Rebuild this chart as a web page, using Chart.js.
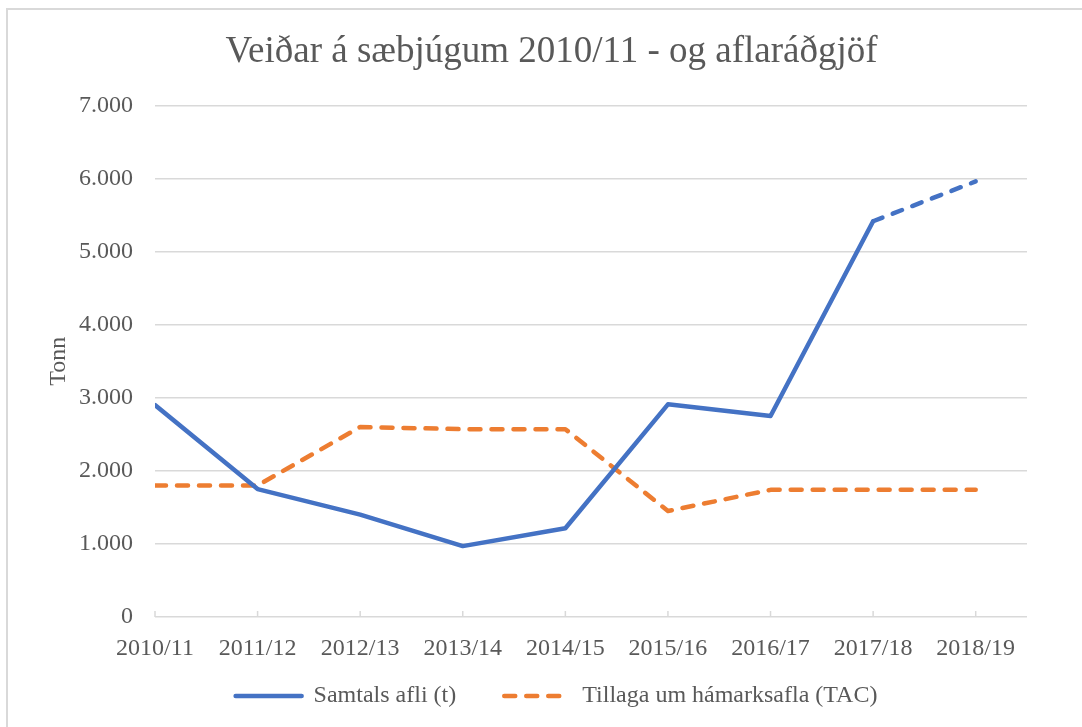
<!DOCTYPE html>
<html>
<head>
<meta charset="utf-8">
<script src="https://cdn.jsdelivr.net/npm/chart.js@4.4.0/dist/chart.umd.min.js"></script>
<style>
html, body { margin: 0; padding: 0; background: #fff; }
#wrap { position: relative; width: 1082px; height: 727px; overflow: hidden; }
#frame { position: absolute; left: 6px; top: 8px; width: 1100px; height: 760px; border: 2px solid #d9d9d9; box-sizing: border-box; }
canvas { position: absolute; left: 0; top: 0; }
</style>
</head>
<body>
<div id="wrap">
    <div id="frame"></div>
    <canvas id="chart" width="1082" height="727"></canvas>
</div>
<script>
var seasons = ['2010/11', '2011/12', '2012/13', '2013/14', '2014/15', '2015/16', '2016/17', '2017/18', '2018/19'];
var totalCatch = [2900, 1750, 1400, 970, 1215, 2910, 2750, 5415, 5960];
var tacAdvice = [1800, 1800, 2600, 2570, 2570, 1450, 1740, 1740, 1740];
var yTicks = [0, 1000, 2000, 3000, 4000, 5000, 6000, 7000];

var serif = 'Liberation Serif, Times New Roman, serif';
var textGray = '#595959';
var gridGray = '#d9d9d9';

function fmtThousands(v) {
    return String(v).replace(/\B(?=(\d{3})+(?!\d))/g, '.');
}

function toPoints(values) {
    return values.map(function (v, i) { return { x: i, y: v }; });
}

// small tick marks that point up into the plot from the base line
var innerTicks = {
    id: 'innerTicks',
    beforeDatasetsDraw: function (chart) {
        var xs = chart.scales.x;
        var base = chart.scales.y.getPixelForValue(0);
        var c = chart.ctx;
        c.save();
        c.strokeStyle = gridGray;
        c.lineWidth = 1.5;
        seasons.forEach(function (s, i) {
            var px = xs.getPixelForValue(i);
            c.beginPath();
            c.moveTo(px, base);
            c.lineTo(px, base - 6);
            c.stroke();
        });
        c.restore();
    }
};

// the excel original centres title and legend on the outer frame, not the plot
var nudge = {
    id: 'nudge',
    afterLayout: function (chart) {
        var t = chart.titleBlock;
        var l = chart.legend;
        if (t) { t.left += 18; t.right += 18; }
        if (l) { l.left += 23; l.right += 23; l.top -= 26; l.bottom -= 26; }
    }
};

new Chart(document.getElementById('chart'), {
    type: 'line',
    data: {
        datasets: [{
            label: 'Samtals afli (t)',
            data: toPoints(totalCatch),
            borderColor: '#4472C4',
            backgroundColor: '#4472C4',
            borderWidth: 4.5,
            borderCapStyle: 'round',
            borderJoinStyle: 'round',
            pointRadius: 0,
            tension: 0,
            segment: {
                borderDash: function (ctx) { return ctx.p0DataIndex === seasons.length - 2 ? [10, 11] : undefined; }
            }
        }, {
            label: 'Tillaga um hámarksafla (TAC)',
            data: toPoints(tacAdvice),
            borderColor: '#ED7D31',
            backgroundColor: '#ED7D31',
            borderWidth: 4.5,
            borderDash: [11, 11],
            borderCapStyle: 'round',
            borderJoinStyle: 'round',
            pointRadius: 0,
            tension: 0
        }]
    },
    options: {
        responsive: false,
        animation: false,
        devicePixelRatio: 1,
        layout: { padding: { left: 40, right: 55, top: 0, bottom: -17 } },
        plugins: {
            title: {
                display: true,
                text: 'Veiðar á sæbjúgum 2010/11 - og aflaráðgjöf',
                color: textGray,
                font: { family: serif, size: 37, weight: 'normal' },
                padding: { top: 30, bottom: 31 }
            },
            legend: {
                position: 'bottom',
                labels: {
                    usePointStyle: true,
                    pointStyle: 'line',
                    pointStyleWidth: 66,
                    color: textGray,
                    font: { family: serif, size: 24 },
                    padding: 48,
                    generateLabels: function (chart) {
                        var items = Chart.defaults.plugins.legend.labels.generateLabels(chart);
                        items.forEach(function (it) {
                            var ds = chart.data.datasets[it.datasetIndex];
                            it.lineDash = ds.borderDash || [];
                            it.lineWidth = ds.borderWidth;
                            it.lineCap = 'round';
                            it.strokeStyle = ds.borderColor;
                        });
                        return items;
                    }
                }
            },
            tooltip: { enabled: false }
        },
        scales: {
            x: {
                type: 'linear',
                min: 0,
                max: seasons.length - 0.5,
                afterBuildTicks: function (scale) {
                    scale.ticks = seasons.map(function (s, i) { return { value: i }; });
                },
                afterFit: function (scale) { scale.height = 45; },
                ticks: {
                    color: textGray,
                    font: { family: serif, size: 24 },
                    padding: 9,
                    maxRotation: 0,
                    autoSkip: false,
                    callback: function (v) { return seasons[v]; }
                },
                grid: { display: false },
                border: { display: false }
            },
            y: {
                min: yTicks[0],
                max: yTicks[yTicks.length - 1],
                afterBuildTicks: function (scale) {
                    scale.ticks = yTicks.map(function (v) { return { value: v }; });
                },
                afterFit: function (scale) { scale.width = 115; },
                ticks: {
                    color: textGray,
                    font: { family: serif, size: 24 },
                    padding: 22,
                    callback: function (v) { return fmtThousands(v); }
                },
                title: {
                    display: true,
                    text: 'Tonn',
                    color: textGray,
                    font: { family: serif, size: 24 },
                    padding: { top: 4, bottom: 4 }
                },
                grid: { color: gridGray, lineWidth: 1.5, drawTicks: false },
                border: { display: false }
            }
        }
    },
    plugins: [innerTicks, nudge]
});
</script>
</body>
</html>
